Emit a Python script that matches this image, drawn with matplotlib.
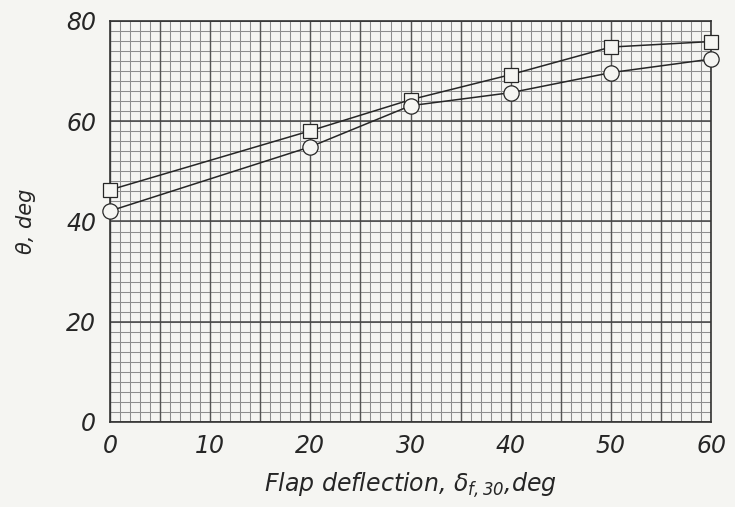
"""Flap deflection vs theta, two faired curves on graph-paper grid."""

import matplotlib

matplotlib.use("Agg")
import matplotlib.pyplot as plt
import numpy as np

FLAP_DEFLECTION = [0, 20, 30, 40, 50, 60]
THETA_SQUARE = [46.3, 58.1, 64.3, 69.3, 74.8, 75.9]
THETA_CIRCLE = [42.1, 54.9, 63.1, 65.7, 69.7, 72.4]
X_TICKS = [0, 10, 20, 30, 40, 50, 60]
Y_TICKS = [0, 20, 40, 60, 80]

PAPER = "#f5f5f2"
INK = "#262626"

plt.rcParams["mathtext.fontset"] = "custom"
plt.rcParams["mathtext.rm"] = "DejaVu Sans:italic"
plt.rcParams["mathtext.it"] = "DejaVu Sans:italic"


def _draw_grid(ax: plt.Axes) -> None:
    # fine 1 x 2 grid with heavier rules every 5 deg (x) and 20 deg (y)
    ax.vlines(np.arange(0, 61, 1), 0, 80, color="#8e8e8e", linewidth=0.75, zorder=1)
    ax.hlines(np.arange(0, 81, 2), 0, 60, color="#8e8e8e", linewidth=0.75, zorder=1)
    ax.vlines(np.arange(0, 61, 5), 0, 80, color="#555555", linewidth=1.0, zorder=1)
    ax.hlines(np.arange(0, 81, 20), 0, 60, color="#444444", linewidth=1.1, zorder=1)


def main() -> None:
    fig = plt.figure(figsize=(7.35, 5.07), dpi=100, facecolor=PAPER)
    ax = fig.add_axes((0.1497, 0.1677, 0.8177, 0.7909))
    ax.set_facecolor(PAPER)

    _draw_grid(ax)

    ax.plot(
        FLAP_DEFLECTION,
        THETA_SQUARE,
        color=INK,
        linewidth=1.1,
        marker="s",
        markersize=10,
        markerfacecolor=PAPER,
        markeredgecolor=INK,
        markeredgewidth=0.9,
        zorder=3,
        clip_on=False,
    )
    ax.plot(
        FLAP_DEFLECTION,
        THETA_CIRCLE,
        color=INK,
        linewidth=1.1,
        marker="o",
        markersize=11,
        markerfacecolor=PAPER,
        markeredgecolor=INK,
        markeredgewidth=0.9,
        zorder=3,
        clip_on=False,
    )

    ax.set_xlim(0, 60)
    ax.set_ylim(0, 80)
    ax.set_xticks(X_TICKS)
    ax.set_yticks(Y_TICKS)
    ax.set_xticklabels([str(v) for v in X_TICKS], fontsize=17, style="italic", color=INK)
    ax.set_yticklabels([str(v) for v in Y_TICKS], fontsize=17, style="italic", color=INK)
    ax.tick_params(axis="both", length=0)
    ax.tick_params(axis="x", pad=9)
    ax.tick_params(axis="y", pad=10)

    for spine in ax.spines.values():
        spine.set_color("#333333")
        spine.set_linewidth(1.2)
        spine.set_zorder(2)

    ax.set_xlabel(
        r"Flap deflection, $\delta_{f,30}$,deg",
        fontsize=17,
        style="italic",
        color=INK,
        labelpad=9,
    )
    ax.set_ylabel("θ, deg", fontsize=15, style="italic", color=INK, labelpad=22)

    fig.savefig("out.png", dpi=100, facecolor=PAPER)
    plt.close(fig)


if __name__ == "__main__":
    main()
